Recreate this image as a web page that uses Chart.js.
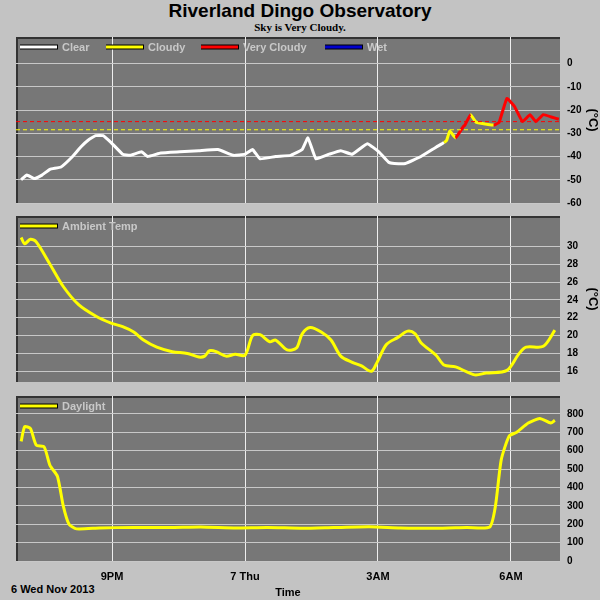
<!DOCTYPE html>
<html><head><meta charset="utf-8">
<script src="https://cdn.jsdelivr.net/npm/chart.js@4/dist/chart.umd.min.js"></script>
<style>
body{margin:0;width:600px;height:600px;background:#c3c3c3;position:relative;overflow:hidden;font-family:"Liberation Sans",Arial,sans-serif}
.c{position:absolute;left:0;width:600px}
#t{position:absolute;top:0;left:0;width:600px;text-align:center;font-weight:bold;font-size:19px;color:#000}
#s{position:absolute;top:21px;left:0;width:600px;text-align:center;font-weight:bold;font-size:11px;font-family:"Liberation Serif",serif}
#d{position:absolute;top:583px;left:11px;font-weight:bold;font-size:11px}
</style></head><body>
<div id="t">Riverland Dingo Observatory</div>
<div id="s">Sky is Very Cloudy.</div>
<div id="d">6 Wed Nov 2013</div>
<div class="c" style="top:24px;height:192px"><canvas id="c1"></canvas></div>
<div class="c" style="top:203px;height:192px"><canvas id="c2"></canvas></div>
<div class="c" style="top:383px;height:217px"><canvas id="c3"></canvas></div>
<script>
// hours since midnight of Nov 6
const skyTime=[18.95,19.08,19.25,19.42,19.60,19.85,20.11,20.29,20.46,20.63,20.80,20.98,21.24,21.41,21.67,21.80,22.10,22.53,22.96,23.39,23.74,24.00,24.17,24.34,24.69,25.03,25.29,25.42,25.60,25.90,26.16,26.42,26.76,27.02,27.24,27.37,27.62,27.97,28.31,28.49,28.55,28.62,28.75,28.93,28.96,29.09,29.2,29.26,29.61,29.72,29.74,29.91,30.08,30.26,30.43,30.56,30.73,30.91,31.08];
const skyTemp=[-50,-48,-49.5,-48,-45.5,-44.5,-40,-36,-33,-31,-31,-34,-39,-39.5,-38,-40,-38.5,-38,-37.5,-37,-39.5,-39,-37,-41,-40,-39.5,-37,-32,-41,-39,-37.5,-39,-34.5,-38,-42.5,-43,-43,-40,-36,-34,-33,-29,-32,-27,-26.5,-22,-25,-25.5,-26.5,-25.5,-25,-15,-18.5,-25,-22,-25,-22,-23,-24];
// 0 clear, 1 cloudy, 2 very cloudy
const skyState=[0,0,0,0,0,0,0,0,0,0,0,0,0,0,0,0,0,0,0,0,0,0,0,0,0,0,0,0,0,0,0,0,0,0,0,0,0,0,0,0,1,1,1,2,2,2,1,1,1,2,2,2,2,2,2,2,2,2,2];
const cloudyLimit=-28.5, veryCloudyLimit=-25;
const ambTime=[18.95,19.03,19.16,19.29,19.60,19.90,20.24,20.63,20.98,21.24,21.49,21.71,22.01,22.36,22.70,22.96,23.09,23.20,23.35,23.57,23.78,24.00,24.17,24.34,24.56,24.69,24.95,25.16,25.29,25.47,25.72,25.94,26.16,26.42,26.63,26.85,26.98,27.19,27.45,27.67,27.84,27.97,28.31,28.49,28.75,29.18,29.44,29.91,30.17,30.34,30.73,30.99];
const ambTemp=[31,30.3,30.8,30.5,28,25.5,23.5,22.2,21.4,21,20.4,19.5,18.7,18.2,18,17.6,17.7,18.3,18.2,17.7,17.9,17.8,20,20.1,19.3,19.5,18.4,18.6,20.2,20.9,20.4,19.5,17.7,17,16.6,16,17,19,19.8,20.5,20.2,19.2,17.8,16.7,16.5,15.6,15.8,16.1,17.9,18.7,18.8,20.6];
const dayTime=[18.95,19.03,19.16,19.29,19.47,19.60,19.77,19.90,20.03,20.20,20.72,21.5,22.3,23.0,23.8,24.5,25.3,26.0,26.8,27.5,28.3,29.0,29.52,29.65,29.78,29.96,30.13,30.39,30.65,30.90,30.99];
const dayLight=[650,730,720,630,620,520,460,300,200,175,180,183,182,185,180,183,178,182,186,180,178,183,185,300,550,680,700,750,775,750,765];
const xTickLabels={21:'9PM',24:'7 Thu',27:'3AM',30:'6AM'};
const skyColors=['#ffffff','#ffff00','#ff0000'];

const font={family:'"Liberation Sans",Arial,sans-serif',size:11,weight:'bold'};
const panelBg={id:'bg',beforeDraw(c){const a=c.chartArea,x=c.ctx;x.save();x.fillStyle='#777777';x.fillRect(a.left,a.top,a.right-a.left,a.bottom-a.top);x.strokeStyle='#333';x.lineWidth=2;x.beginPath();x.moveTo(a.left+1,a.bottom);x.lineTo(a.left+1,a.top+1);x.lineTo(a.right,a.top+1);x.stroke();x.restore();}};
function legendPlugin(items){return{id:'lg',afterDraw(c){const a=c.chartArea,x=c.ctx;x.save();x.font='bold 11px "Liberation Sans",Arial';x.textBaseline='middle';
items.forEach(it=>{const y=a.top+10;x.strokeStyle='#000';x.lineWidth=5;x.beginPath();x.moveTo(it.x,y);x.lineTo(it.x+38,y);x.stroke();x.strokeStyle=it.c;x.lineWidth=3;x.beginPath();x.moveTo(it.x,y);x.lineTo(it.x+37,y);x.stroke();x.fillStyle='#c8c8c8';x.fillText(it.t,it.x+42,y+1);});x.restore();}};}
function mk(id,datasets,ymin,ymax,ticks,showX,title,legend){
 return new Chart(document.getElementById(id),{type:'line',data:{datasets},
 options:{responsive:true,maintainAspectRatio:false,animation:false,layout:{autoPadding:false,padding:{left:16,top:0,right:0,bottom:0}},
 plugins:{legend:{display:false},tooltip:{enabled:false}},
 elements:{point:{radius:0},line:{borderWidth:3,tension:0.3}},
 scales:{
  x:{type:'linear',min:18.834,max:31.106,display:true,
   afterBuildTicks(s){s.ticks=[];for(let h=19;h<=31;h++)s.ticks.push({value:h});},
   afterFit(s){s.height=showX?38:0;},
   grid:{color:ctx=>xTickLabels[ctx.tick&&ctx.tick.value]?'#eeeeee':'rgba(0,0,0,0)',drawTicks:false,lineWidth:1},
   border:{display:false},
   ticks:{display:showX,color:'#000',font,padding:8,callback:v=>xTickLabels[v]||''},
   title:{display:showX,text:'Time',color:'#000',font,padding:0}},
  y:{position:'right',min:ymin,max:ymax,
   afterBuildTicks(s){s.ticks=ticks.map(v=>({value:v}));},
   afterFit(s){s.width=40;},
   grid:{color:'#c8c8c8',drawTicks:false},border:{display:false},
   ticks:{color:'#000',font:{...font,size:10},padding:7},
   title:{display:!!title,text:title,color:'#000',font:{...font,size:13},padding:0}}}},
 plugins:[panelBg,legendPlugin(legend)]});
}
const xy=(t,v)=>t.map((h,i)=>({x:h,y:v[i]}));
const skyTicks=[0,-10,-20,-30,-40,-50,-60];
mk('c1',[
 {data:[{x:18.834,y:veryCloudyLimit},{x:31.106,y:veryCloudyLimit}],borderColor:'#ff0000',borderWidth:1,borderDash:[4,3],tension:0},
 {data:[{x:18.834,y:cloudyLimit},{x:31.106,y:cloudyLimit}],borderColor:'#ffff00',borderWidth:1,borderDash:[4,3],tension:0},
 {data:xy(skyTime,skyTemp),borderColor:'#fff',tension:0.1,segment:{borderColor:c=>skyColors[skyState[c.p1DataIndex]]}}
],-60,11.4,skyTicks,false,'(°C)',[{x:20,c:'#fff',t:'Clear'},{x:106,c:'#ffff00',t:'Cloudy'},{x:201,c:'#ff0000',t:'Very Cloudy'},{x:325,c:'#0000cc',t:'Wet'}]);
mk('c2',[{data:xy(ambTime,ambTemp),borderColor:'#ffff00'}],14.8,33.4,[16,18,20,22,24,26,28,30],false,'(°C)',[{x:20,c:'#ffff00',t:'Ambient Temp'}]);
mk('c3',[{data:xy(dayTime,dayLight),borderColor:'#ffff00',tension:0.2}],-5,897,[0,100,200,300,400,500,600,700,800],true,'',[{x:20,c:'#ffff00',t:'Daylight'}]);
</script></body></html>
